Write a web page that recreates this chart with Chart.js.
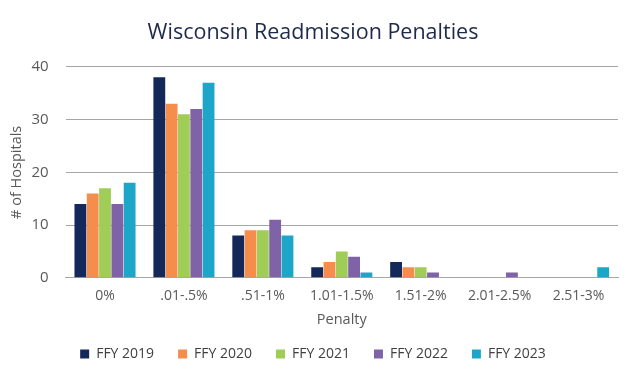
<!DOCTYPE html>
<html><head><meta charset="utf-8">
<script src="https://cdn.jsdelivr.net/npm/chart.js@4/dist/chart.umd.min.js"></script>
<style>html,body{margin:0;padding:0;background:#fff}#wrap{width:637px;height:382px}</style>
</head><body><div id="wrap"><canvas id="c" width="637" height="382"></canvas></div>
<script>
const categories = ['0%', '.01-.5%', '.51-1%', '1.01-1.5%', '1.51-2%', '2.01-2.5%', '2.51-3%'];
const fy2019 = [14, 38, 8, 2, 3, 0, 0];
const fy2020 = [16, 33, 9, 3, 2, 0, 0];
const fy2021 = [17, 31, 9, 5, 2, 0, 0];
const fy2022 = [14, 32, 11, 4, 1, 1, 0];
const fy2023 = [18, 37, 8, 1, 0, 0, 2];
const seriesNames = ['FFY 2019', 'FFY 2020', 'FFY 2021', 'FFY 2022', 'FFY 2023'];
const colors = ['#14285A', '#F58D4C', '#A0CC58', '#7F63A6', '#1EA6C8'];
const allSeries = [fy2019, fy2020, fy2021, fy2022, fy2023];
const font = "'Open Sans', 'Liberation Sans', sans-serif";
new Chart(document.getElementById('c'), {
  type: 'bar',
  data: {
    labels: categories,
    datasets: allSeries.map((d, i) => ({
      label: seriesNames[i], data: d, backgroundColor: colors[i],
      barPercentage: 0.96, categoryPercentage: 0.78
    }))
  },
  options: {
    responsive: false, animation: false,
    layout: { padding: { left: 8, right: 19, top: 12, bottom: 11 } },
    plugins: {
      title: { display: true, text: 'Wisconsin Readmission Penalties', color: '#1F2A4A',
        font: { family: font, size: 21.5, weight: 'normal' }, padding: { top: 8, bottom: 21 } },
      legend: { position: 'bottom', labels: { boxWidth: 9, boxHeight: 9, color: '#404040',
        font: { family: font, size: 14 }, padding: 24 } },
      tooltip: { enabled: false }
    },
    scales: {
      x: {
        grid: { display: false }, border: { display: true, color: '#A6A6A6' },
        ticks: { color: '#595959', font: { family: font, size: 14 }, padding: 2 },
        title: { display: true, text: 'Penalty', color: '#595959', font: { family: font, size: 14.5 }, padding: { top: 5, bottom: -6 } }
      },
      y: {
        min: 0, max: 40,
        afterFit: (s) => { s.width -= 17; },
        ticks: { stepSize: 10, color: '#595959', font: { family: font, size: 15 }, padding: 17 },
        grid: { color: '#A6A6A6', lineWidth: 1, drawTicks: false },
        border: { display: false },
        title: { display: true, text: '# of Hospitals', color: '#595959', font: { family: font, size: 14.5 }, padding: { top: 0, bottom: 6 } }
      }
    }
  }
});
</script></body></html>
